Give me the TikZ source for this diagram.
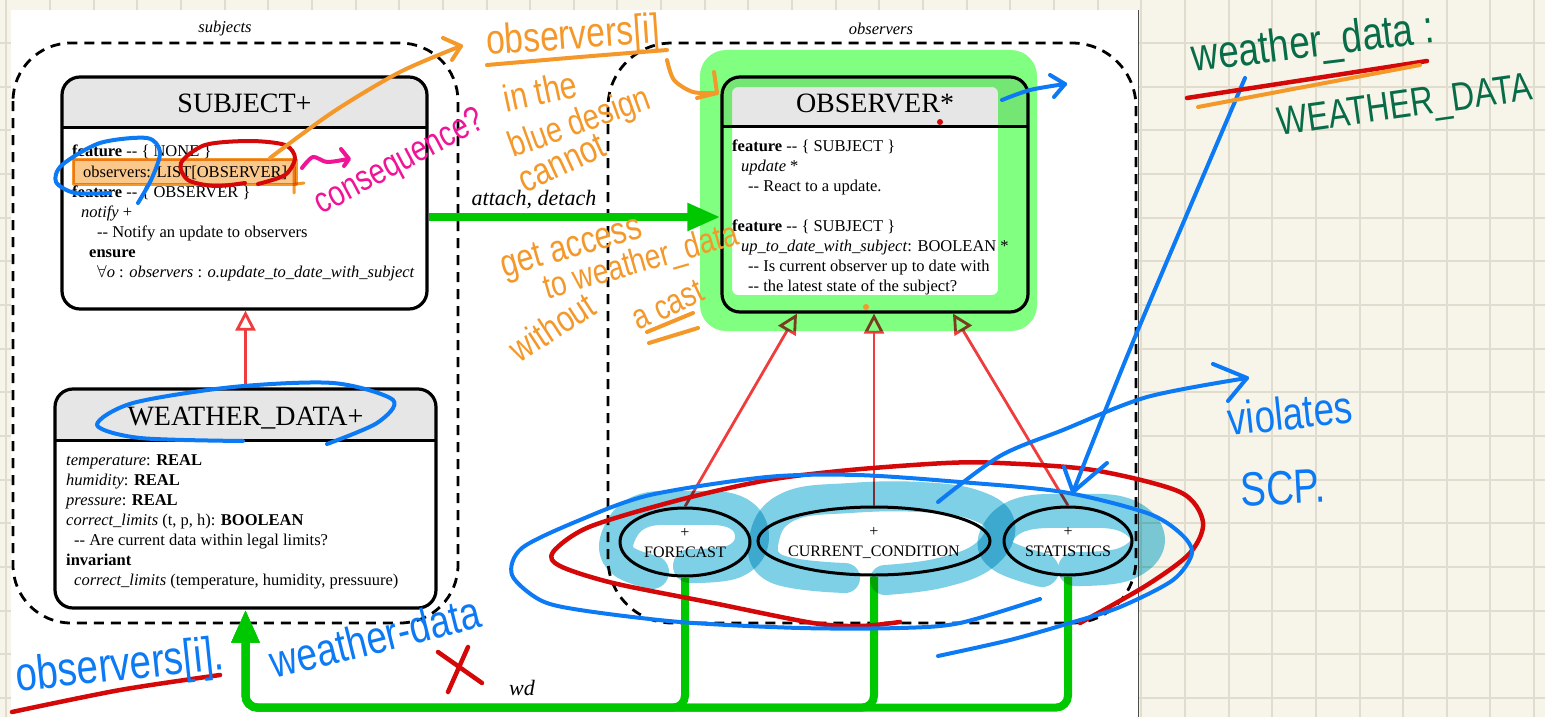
\documentclass[tikz,border=0pt]{standalone}
\usepackage{fontspec}
\setmainfont{Liberation Serif}
\newfontfamily\hand{Liberation Sans}[FakeStretch=0.8]
\usetikzlibrary{arrows.meta,calc,shapes.geometric}

\definecolor{paper}{RGB}{247,245,234}
\definecolor{gridc}{RGB}{224,221,206}
\definecolor{hdr}{RGB}{230,230,230}
\definecolor{umlred}{RGB}{240,60,60}
\definecolor{umlgreen}{RGB}{0,200,0}
\definecolor{penorange}{RGB}{244,152,42}
\definecolor{penred}{RGB}{212,8,8}
\definecolor{penblue}{RGB}{12,122,245}
\definecolor{penpink}{RGB}{240,20,150}
\definecolor{pengreen}{RGB}{8,108,72}
\definecolor{hlgreen}{RGB}{128,255,128}
\definecolor{hlblue}{RGB}{125,208,230}
\definecolor{hlorange}{RGB}{251,200,140}

\tikzset{
  classbox/.style={draw, line width=3.2pt, rounded corners=18pt, inner sep=0pt},
  title/.style={font=\fontsize{28}{30}\selectfont, anchor=base, inner sep=0pt},
  body/.style={font=\fontsize{16.5}{20}\selectfont, anchor=base west, inner sep=0pt},
  region/.style={draw, line width=2.8pt, dash pattern=on 10pt off 7pt},
  regionlabel/.style={font=\fontsize{16.5}{20}\selectfont\itshape, inner sep=0pt},
  usecase/.style={ellipse, draw, line width=3pt, inner sep=0pt, fill=white},
  uclabel/.style={font=\fontsize{16}{20}\selectfont, inner sep=0pt},
  inherit/.style={draw=umlred, line width=2.8pt, -{Triangle[open, length=20pt, width=20pt]}},
  supplier/.style={draw=umlgreen, line width=8pt, -{Triangle[length=33pt, width=26pt]}},
  rolelabel/.style={font=\fontsize{22}{24}\selectfont\itshape, inner sep=0pt},
  pen/.style={line width=4pt, line cap=round, line join=round},
  hlstroke/.style={hlblue, line width=34pt, line cap=round, line join=round},
  hw/.style={inner sep=0pt},
}

% class box: name, x1, y1, x2, y2, y of the header rule
\newcommand\umlclass[6]{%
  \fill[white, rounded corners=18pt] (#2,#3) rectangle (#4,#5);
  \begin{scope}
    \clip (#2-8,#3-8) rectangle (#4+8,#6);
    \fill[hdr, rounded corners=18pt] (#2,#3) rectangle (#4,#5);
  \end{scope}
  \draw[line width=3pt] (#2,#6) -- (#4,#6);
  \node[classbox, minimum width={(#4-#2)*1pt}, minimum height={(#5-#3)*1pt}]
    (#1) at ({(#2+#4)/2},{(#3+#5)/2}) {};}

\begin{document}
\begin{tikzpicture}[x=1pt,y=-1pt]
\useasboundingbox (0,0) rectangle (1545,717);

% squared notebook paper
\fill[paper] (0,0) rectangle (1545,717);
\foreach \k in {0,...,35}
  \draw[gridc, line width=2pt] ({6.35+43.65*\k},0) -- ({6.35+43.65*\k},717);
\foreach \k in {1,...,16}
  \draw[gridc, line width=2pt] (0,{-0.5+43.65*\k}) -- (1545,{-0.5+43.65*\k});

% the printed slide
\fill[white] (11,10) rectangle (1138,717);
\draw[black!70, line width=1.2pt] (1138.5,10) -- (1138.5,717);

% clusters
\draw[region, rounded corners=58pt] (13,43) rectangle (458,623);
\draw[region, rounded corners=64pt] (608,43) rectangle (1136,623);
\node[regionlabel] (lblsubj) at (225,29) {subjects};
\node[regionlabel] (lblobs) at (881,29) {observers};

% classes
\umlclass{subj}{62}{77}{427}{309}{127}
\umlclass{obs}{722}{77}{1028}{312}{126}
\umlclass{wdata}{55}{389}{436}{608}{440}

\node[title] (subjT) at (244.5,112) {SUBJECT+};
\node[title] (obsT) at (875,112) {OBSERVER*};
\node[title] (wdT) at (245.5,425) {WEATHER\_DATA+};

\node[body] (s1) at (72,156) {\textbf{feature} -{}- \{ NONE \}};
\node[body] (s2) at (83,177) {observers: LIST[OBSERVER]};
\node[body] (s3) at (72,197) {\textbf{feature} -{}- \{ OBSERVER \}};
\node[body] (s4) at (81,217) {\textit{notify} +};
\node[body] (s5) at (97,237) {-{}- Notify an update to observers};
\node[body] (s6) at (89,257) {\textbf{ensure}};
\node[body] (s7) at (97,277) {$\forall$\textit{o} : \textit{observers} : \textit{o.update\_to\_date\_with\_subject}};

\node[body] (o1) at (732,151) {\textbf{feature} -{}- \{ SUBJECT \}};
\node[body] (o2) at (741,171) {\textit{update} *};
\node[body] (o3) at (748,191) {-{}- React to a update.};
\node[body] (o4) at (732,231) {\textbf{feature} -{}- \{ SUBJECT \}};
\node[body] (o5) at (741,251) {\textit{up\_to\_date\_with\_subject}: BOOLEAN *};
\node[body] (o6) at (748,271) {-{}- Is current observer up to date with};
\node[body] (o7) at (748,291) {-{}- the latest state of the subject?};

\node[body] (w1) at (66,465) {\textit{temperature}: \textbf{REAL}};
\node[body] (w2) at (66,485) {\textit{humidity}: \textbf{REAL}};
\node[body] (w3) at (66,505) {\textit{pressure}: \textbf{REAL}};
\node[body] (w4) at (66,525) {\textit{correct\_limits} (t, p, h): \textbf{BOOLEAN}};
\node[body] (w5) at (74,545) {-{}- Are current data within legal limits?};
\node[body] (w6) at (66,565) {\textbf{invariant}};
\node[body] (w7) at (74,585) {\textit{correct\_limits} (temperature, humidity, pressuure)};

% concrete observers
\node[usecase, minimum width=130pt, minimum height=68pt] (fc) at (685,542) {};
\node[usecase, minimum width=232pt, minimum height=68pt] (cc) at (874,541) {};
\node[usecase, minimum width=128pt, minimum height=68pt] (st) at (1068,541) {};
\node[uclabel] (fcP) at (685,533) {+};
\node[uclabel, anchor=base] (fcN) at (685,557) {FORECAST};
\node[uclabel] (ccP) at (874,532) {+};
\node[uclabel, anchor=base] (ccN) at (874,556) {CURRENT\_CONDITION};
\node[uclabel] (stP) at (1068,532) {+};
\node[uclabel, anchor=base] (stN) at (1068,556) {STATISTICS};

% inheritance
\draw[inherit] (fc.north) -- ([xshift=-78pt]obs.south);
\draw[inherit] (cc.north) -- (cc.north |- obs.south);
\draw[inherit] (st.north) -- ([xshift=78pt]obs.south);
\draw[inherit] (wdata.north) -- (wdata.north |- subj.south);

% client-supplier
\draw[supplier] ([yshift=-24pt]subj.east) -- ([yshift=-22.5pt]obs.west);
\node[rolelabel] (attachL) at (534,200) {attach, detach};
\draw[supplier, rounded corners=12pt] (fc.south) |- ($(wdata.south)+(0,98)$) -- (wdata.south);
\draw[supplier, rounded corners=12pt] (cc.south) |- ($(wdata.south)+(0,98)$) -- (wdata.south);
\draw[supplier, rounded corners=12pt] (st.south) |- ($(wdata.south)+(0,98)$) -- (wdata.south);
\node[rolelabel] (wdL) at (522,688) {wd};

% highlighter marks
\begin{scope}[blend mode=multiply]
  \fill[hlgreen, even odd rule, rounded corners=26pt] (700,50) rectangle (1037,331)
       [rounded corners=6pt] (732,87) rectangle (998,295);
  \filldraw[draw=penorange, fill=hlorange, line width=3pt, line join=round] (73,159) rectangle (296,184);
  \draw[penorange, pen, line width=3pt] (294,167) -- (294,193) (296,184) -- (304,183);
  \draw[hlstroke]
    plot[smooth, tension=0.7] coordinates {(652,572) (622,560) (618,537) (640,512) (685,508) (735,512) (752,537) (735,561) (690,566)};
  \draw[hlstroke, line width=30pt]
    plot[smooth, tension=0.7] coordinates {(845,578) (775,568) (765,535) (790,506) (850,498) (920,497) (975,505) (1000,525) (985,555) (940,573) (885,580)};
  \draw[hlstroke]
    plot[smooth, tension=0.7] coordinates {(1042,570) (1003,556) (996,537) (1020,515) (1072,511) (1125,515) (1148,540) (1125,564) (1075,569)};
\end{scope}

% pen strokes
\draw[pen, penblue] plot[smooth] coordinates {(138,203) (152,178) (160,152) (147,138) (100,143) (62,165) (56,182) (75,193) (110,193)};
\draw[pen, penred] plot[smooth] coordinates {(258,184) (285,175) (295,158) (285,145) (250,141) (205,145) (181,163) (188,180) (215,186) (245,183)};
\draw[pen, penorange] plot[smooth] coordinates {(270,158) (333,112) (400,72) (461,46)};
\draw[pen, penorange] (443,38) -- (461,46) -- (452,60);
\draw[pen, penorange] plot[smooth] coordinates {(487,65) (580,57) (667,50)};
\draw[pen, penorange] plot[smooth] coordinates {(667,60) (674,80) (693,92) (717,93)};
\draw[pen, penorange] (714,72) -- (717,93) -- (697,98);
\draw[pen, penorange] (647,332) -- (693,313) (649,343) -- (698,328);
\draw[pen, penpink] plot[smooth] coordinates {(302,168) (313,157) (327,162) (348,159)};
\draw[pen, penpink] (341,149) -- (349,159) -- (344,166);
\draw[pen, penblue] plot[smooth] coordinates {(1002,100) (1030,90) (1065,84)};
\draw[pen, penblue] (1050,75) -- (1065,84) -- (1054,97);
\fill[penred] (940,122) circle (3);
\fill[penorange] (866,307) circle (3);
\draw[pen, penblue] plot[smooth] coordinates {(243,441) (140,438) (97,425) (133,403) (233,387) (333,383) (393,400) (377,423) (327,444)};
\draw[pen, penred, line width=4.5pt] plot[smooth] coordinates {(1080,623) (1147,585) (1190,553) (1203,522) (1180,492) (1093,470) (1000,463) (946,463) (850,470) (768,480) (679,500) (589,527) (553,552) (560,566) (613,583) (713,603) (813,623) (860,626) (900,622)};
\draw[pen, penblue] plot[smooth] coordinates {(938,656) (1010,640) (1070,623) (1120,607) (1173,580) (1192,553) (1180,533) (1147,513) (1063,492) (960,482) (857,475) (767,477) (650,495) (580,520) (522,548) (512,575) (540,600) (580,610) (680,622) (800,628) (900,628) (960,623) (1040,599)};
\draw[pen, penblue] plot[smooth] coordinates {(1245,78) (1135,337) (1073,492)};
\draw[pen, penblue] (1064,467) -- (1073,492) -- (1107,463);
\draw[pen, penblue] plot[smooth] coordinates {(938,502) (1000,456) (1063,430) (1147,397) (1247,378)};
\draw[pen, penblue] (1213,364) -- (1247,378) -- (1228,401);
\draw[pen, penred, line width=4.5pt] plot[smooth] coordinates {(12,712) (120,690) (220,675)};
\draw[pen, penred, line width=4.5pt] (438,652) -- (482,683) (468,647) -- (448,692);
\draw[pen, penred, line width=4.5pt] (1187,98) -- (1427,61);
\draw[pen, penorange] (1198,107) -- (1420,65);

% handwritten notes
\node[hw, text=penorange, rotate=4, font=\hand\fontsize{42}{44}\selectfont] (nObs) at (573,38) {observers[i]};
\node[hw, text=penorange, rotate=12, font=\hand\fontsize{38}{40}\selectfont] (nIn) at (540,91) {in the};
\node[hw, text=penorange, rotate=20, font=\hand\fontsize{36}{38}\selectfont] (nBlue) at (580,124) {blue design};
\node[hw, text=penorange, rotate=25, font=\hand\fontsize{38}{40}\selectfont] (nCannot) at (562,163) {cannot};
\node[hw, text=penorange, rotate=16, font=\hand\fontsize{38}{40}\selectfont] (nGet) at (572,249) {get access};
\node[hw, text=penorange, rotate=16, font=\hand\fontsize{35}{37}\selectfont] (nTo) at (641,263) {to weather\_data};
\node[hw, text=penorange, rotate=33, font=\hand\fontsize{37}{39}\selectfont] (nWithout) at (552,327) {without};
\node[hw, text=penorange, rotate=25, font=\hand\fontsize{35}{37}\selectfont] (nCast) at (668,305) {a cast};
\node[hw, text=penpink, rotate=28, font=\hand\fontsize{36}{38}\selectfont] (nConseq) at (400,163) {consequence?};
\node[hw, text=penblue, rotate=6, font=\hand\fontsize{48}{50}\selectfont] (nObsI) at (120,668) {observers[i].};
\node[hw, text=penblue, rotate=14, font=\hand\fontsize{46}{48}\selectfont] (nWd) at (375,637) {weather-data};
\node[hw, text=pengreen, rotate=7, font=\hand\fontsize{46}{48}\selectfont] (nWdName) at (1313,45) {weather\_data :};
\node[hw, text=pengreen, rotate=8, font=\hand\fontsize{40}{42}\selectfont] (nWdType) at (1405,108) {WEATHER\_DATA};
\node[hw, text=penblue, rotate=6, font=\hand\fontsize{46}{48}\selectfont] (nViol) at (1290,413) {violates};
\node[hw, text=penblue, rotate=3, font=\hand\fontsize{48}{50}\selectfont] (nScp) at (1283,488) {SCP.};
\end{tikzpicture}
\end{document}
